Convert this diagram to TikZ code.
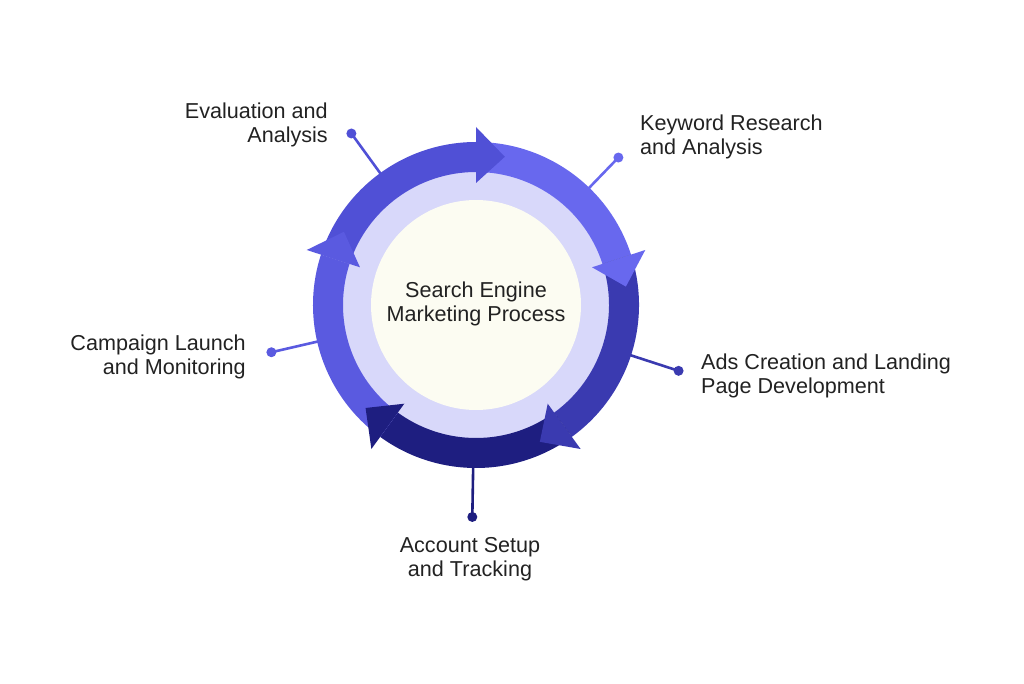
\documentclass[tikz,border=0pt]{standalone}
\usepackage{fontspec}
\setmainfont{Liberation Sans}
\usepackage{tikz}
\usetikzlibrary{calc}
\tikzset{>=latex}
\definecolor{mytop}{RGB}{80, 80, 214}
\definecolor{myleft}{RGB}{90, 90, 224}
\definecolor{mylight}{RGB}{104, 104, 238}
\definecolor{mydark}{RGB}{58, 58, 176}
\definecolor{mynavy}{RGB}{30, 30, 128}
\definecolor{mylavender}{RGB}{216, 216, 250}
\definecolor{mycream}{RGB}{252, 252, 242}
\definecolor{mytext}{RGB}{34, 34, 34}
\tikzset{steptext/.style = {font = \fontsize{21.6}{24}\selectfont, text = mytext, inner sep = 0pt},
         enddot/.style = {circle, inner sep = 0pt, minimum size = 10pt}}
% band of the ring between two angles (clockwise)
\newcommand{\ringband}[3]{\fill[#1] (#2:163) arc[start angle = #2, end angle = #3, radius = 163] -- (#3:133) arc[start angle = #3, end angle = #2, radius = 133] -- cycle;}
% arrow head sitting on the band
\newcommand{\ringhead}[2]{\fill[#1] (#2:122) -- (#2:178) -- ({#2-11}:151) -- cycle;}

\begin{document}
\begin{tikzpicture}[x = 1pt, y = 1pt]

\useasboundingbox (0,0) rectangle (1024,683);

\begin{scope}[shift = {(476,378)}]
\fill[mylavender] (0,0) circle (135);
\fill[mycream] (0,0) circle (105);

\ringband{mytop}{162}{90}
\ringband{mylight}{90}{18}
\ringband{mydark}{18}{-54}
\ringband{mynavy}{-54}{-126}
\ringband{myleft}{-126}{-198}

\ringhead{mytop}{90}
\ringhead{mylight}{18}
\ringhead{mydark}{-54}
\ringhead{mynavy}{-126}
\ringhead{myleft}{162}

\node[steptext, align = center] (semtitle) at (0,1) {Search Engine\\Marketing Process};

\coordinate (evalring) at (126:162);
\coordinate (keyring) at (46:162);
\coordinate (adsring) at (-18:162);
\coordinate (accring) at (-91:162);
\coordinate (campring) at (-167:162);

\node[enddot, fill = mytop] (evaldot) at (126:212) {};
\node[enddot, fill = mylight] (keydot) at (46:205) {};
\node[enddot, fill = mydark] (adsdot) at (-18:213) {};
\node[enddot, fill = mynavy] (accdot) at (-91:212) {};
\node[enddot, fill = myleft] (campdot) at (-167:210) {};

\draw[mytop, line width = 2.6pt] (evalring) -- (evaldot.center);
\draw[mylight, line width = 2.6pt] (keyring) -- (keydot.center);
\draw[mydark, line width = 2.6pt] (adsring) -- (adsdot.center);
\draw[mynavy, line width = 2.6pt] (accring) -- (accdot.center);
\draw[myleft, line width = 2.6pt] (campring) -- (campdot.center);
\end{scope}

\node[steptext, align = right, anchor = north east] (evaltext) at (328,580) {Evaluation and\\Analysis};
\node[steptext, align = left, anchor = north west] (keytext) at (640,568) {Keyword Research\\and Analysis};
\node[steptext, align = left, anchor = north west] (adstext) at (701,329) {Ads Creation and Landing\\Page Development};
\node[steptext, align = center, anchor = north] (acctext) at (470,146) {Account Setup\\and Tracking};
\node[steptext, align = right, anchor = north east] (camptext) at (246,348) {Campaign Launch\\and Monitoring};

\end{tikzpicture}
\end{document}
